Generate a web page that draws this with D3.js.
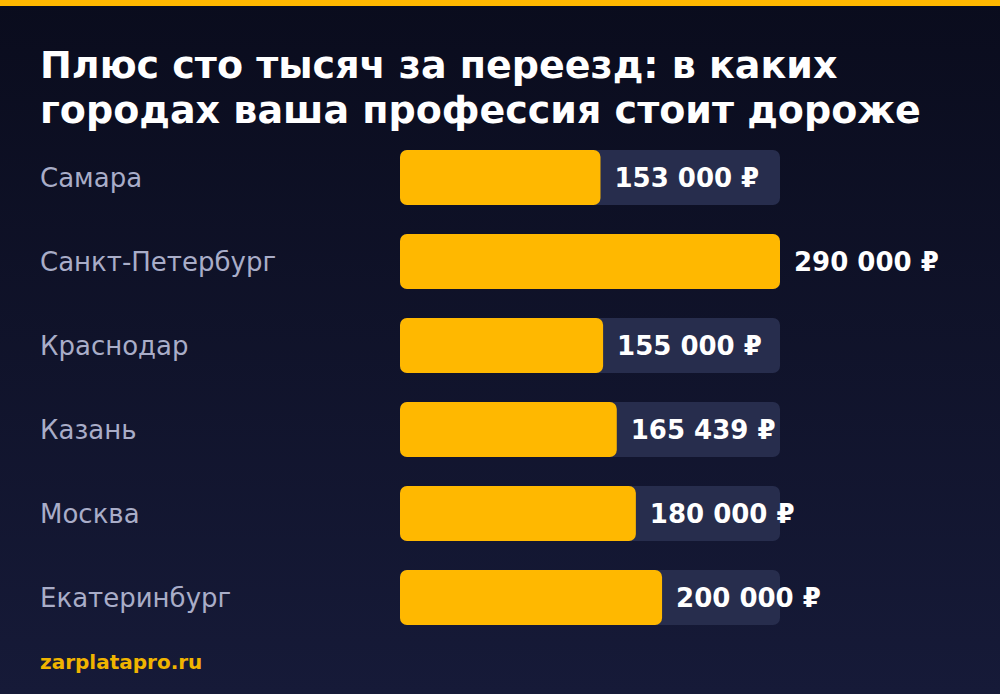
<!DOCTYPE html>
<html>
<head>
<meta charset="utf-8">
<script src="https://cdn.jsdelivr.net/npm/d3@7"></script>
<style>
  html, body { margin: 0; padding: 0; background: #0b0d1e; }
  svg { display: block; font-family: "DejaVu Sans", sans-serif; }
</style>
</head>
<body>
<svg id="chart" width="1000" height="694"></svg>
<script>
const cities = ["Самара", "Санкт-Петербург", "Краснодар", "Казань", "Москва", "Екатеринбург"];
const salaries = [153000, 290000, 155000, 165439, 180000, 200000];
const titleLines = ["Плюс сто тысяч за переезд: в каких", "городах ваша профессия стоит дороже"];
const source = "zarplatapro.ru";

const W = 1000, H = 694;
const svg = d3.select("#chart");

// background gradient
const defs = svg.append("defs");
const grad = defs.append("linearGradient").attr("id", "bg")
    .attr("x1", 0).attr("y1", 0).attr("x2", 0).attr("y2", 1);
grad.append("stop").attr("offset", "0%").attr("stop-color", "#0a0c1d");
grad.append("stop").attr("offset", "100%").attr("stop-color", "#161a38");
svg.append("rect").attr("width", W).attr("height", H).attr("fill", "url(#bg)");
svg.append("rect").attr("width", W).attr("height", 6).attr("fill", "#ffb800");

// title
svg.append("g").selectAll("text")
    .data(titleLines)
    .join("text")
    .attr("x", 40)
    .attr("y", (d, i) => 78 + i * 45)
    .attr("fill", "#ffffff")
    .attr("font-size", 38)
    .attr("font-weight", "bold")
    .text(d => d);

const x = d3.scaleLinear().domain([0, d3.max(salaries)]).range([0, 380]);
// step 84, bar 55
const y = d3.scaleBand().domain(cities).range([150, 625]).paddingInner(29 / 84).paddingOuter(0).align(0);

const data = cities.map((c, i) => ({ city: c, value: salaries[i] }));
const fmt = v => d3.format(",")(v).replace(/,/g, " ") + " ₽";

const rows = svg.append("g").selectAll("g")
    .data(data)
    .join("g")
    .attr("transform", d => `translate(0,${y(d.city)})`);

rows.append("text")
    .attr("x", 40)
    .attr("y", y.bandwidth() / 2)
    .attr("dy", "0.35em")
    .attr("fill", "#a9adc8")
    .attr("font-size", 26)
    .text(d => d.city);

rows.append("rect")
    .attr("x", 400)
    .attr("width", x.range()[1])
    .attr("height", y.bandwidth())
    .attr("rx", 7)
    .attr("fill", "#272d4d");

rows.append("rect")
    .attr("x", 400)
    .attr("width", d => x(d.value))
    .attr("height", y.bandwidth())
    .attr("rx", 7)
    .attr("fill", "#ffb800");

rows.append("text")
    .attr("x", d => 400 + x(d.value) + 14)
    .attr("y", y.bandwidth() / 2)
    .attr("dy", "0.35em")
    .attr("fill", "#ffffff")
    .attr("font-size", 26)
    .attr("font-weight", "bold")
    .text(d => fmt(d.value));

svg.append("text")
    .attr("x", 40)
    .attr("y", 669)
    .attr("fill", "#f0b400")
    .attr("font-size", 20)
    .attr("font-weight", "bold")
    .text(source);
</script>
</body>
</html>
